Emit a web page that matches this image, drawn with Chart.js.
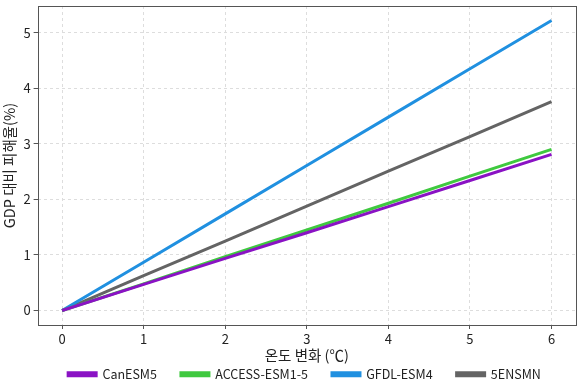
<!DOCTYPE html>
<html>
<head>
<meta charset="utf-8">
<script src="https://cdn.jsdelivr.net/npm/chart.js@4"></script>
<style>
  html, body { margin: 0; padding: 0; background: #fff; }
  #wrap { width: 581px; height: 384px; }
</style>
</head>
<body>
<div id="wrap"><canvas id="container" width="581" height="384"></canvas></div>
<script>
// temperature change (x) and GDP damage (%) per model
var temps = [0, 1, 2, 3, 4, 5, 6];
var canesm5 = [0, 0.47, 0.94, 1.40, 1.87, 2.34, 2.81];
var access = [0, 0.48, 0.97, 1.45, 1.93, 2.42, 2.90];
var gfdl = [0, 0.87, 1.74, 2.61, 3.48, 4.35, 5.22];
var ensmn = [0, 0.63, 1.25, 1.88, 2.51, 3.13, 3.76];
var xTicks = [0, 1, 2, 3, 4, 5, 6];
var yTicks = [0, 1, 2, 3, 4, 5];

var fontFam = "'Noto Sans CJK KR', 'Noto Sans', sans-serif";

function pts(arr) {
  return temps.map(function(t, i) { return { x: t, y: arr[i] }; });
}

function ds(label, arr, color) {
  return {
    label: label,
    data: pts(arr),
    borderColor: color,
    backgroundColor: color,
    borderWidth: 3,
    pointRadius: 0,
    tension: 0
  };
}

// box around the plot area
var frame = {
  id: 'frame',
  afterDraw: function(chart) {
    var a = chart.chartArea, c = chart.ctx;
    c.save();
    c.strokeStyle = '#555555';
    c.lineWidth = 1;
    c.strokeRect(Math.round(a.left) + 0.5, Math.round(a.top) + 0.5,
      Math.round(a.right - a.left), Math.round(a.bottom - a.top));
    c.restore();
  }
};

// legend sits close under the axis title, centred under the plot
var legendSpot = {
  id: 'legendSpot',
  afterInit: function(chart) {
    var lg = chart.legend;
    var f = lg.fit;
    lg.fit = function() {
      f.call(this);
      this.realHeight = this.height;
      this.height = 10;
    };
  },
  afterLayout: function(chart) {
    var lg = chart.legend;
    lg.top = 344;
    lg.height = lg.realHeight;
    lg.bottom = lg.top + lg.realHeight;
    lg.left += 16;
    lg.right += 16;
  }
};

new Chart(document.getElementById('container'), {
  type: 'line',
  data: {
    datasets: [
      ds('CanESM5', canesm5, '#8a12c4'),
      ds('ACCESS-ESM1-5', access, '#3fc93f'),
      ds('GFDL-ESM4', gfdl, '#2090e0'),
      ds('5ENSMN', ensmn, '#646464')
    ]
  },
  options: {
    responsive: false,
    animation: false,
    devicePixelRatio: 1,
    layout: { padding: { left: 1, right: 5, top: 6, bottom: 10 } },
    plugins: {
      legend: {
        position: 'bottom',
        labels: {
          boxWidth: 28,
          boxHeight: 3,
          padding: 24,
          color: '#222',
          font: { family: fontFam, size: 12.5 }
        }
      },
      tooltip: { enabled: false }
    },
    scales: {
      x: {
        type: 'linear',
        min: -0.3,
        max: 6.3,
        afterBuildTicks: function(axis) {
          axis.ticks = xTicks.map(function(v) { return { value: v }; });
        },
        grid: { color: '#dddddd', tickColor: '#555555', tickLength: 4 },
        border: { display: false, dash: [3, 3] },
        ticks: { color: '#222', font: { family: fontFam, size: 13 }, padding: 2 },
        title: {
          display: true,
          text: '온도 변화 (℃)',
          color: '#222',
          font: { family: fontFam, size: 14.5 },
          padding: { top: -2, bottom: 0 }
        }
      },
      y: {
        type: 'linear',
        min: -0.26,
        max: 5.48,
        afterBuildTicks: function(axis) {
          axis.ticks = yTicks.map(function(v) { return { value: v }; });
        },
        afterFit: function(axis) {
          axis.paddingTop = 0;
          axis.paddingBottom = 0;
        },
        grid: { color: '#dddddd', tickColor: '#555555', tickLength: 4 },
        border: { display: false, dash: [3, 3] },
        ticks: { color: '#222', font: { family: fontFam, size: 13 }, padding: 3 },
        title: {
          display: true,
          text: 'GDP 대비 피해율(%)',
          color: '#222',
          font: { family: fontFam, size: 14.5 },
          padding: { top: 0, bottom: 2 }
        }
      }
    }
  },
  plugins: [frame, legendSpot]
});
</script>
</body>
</html>
